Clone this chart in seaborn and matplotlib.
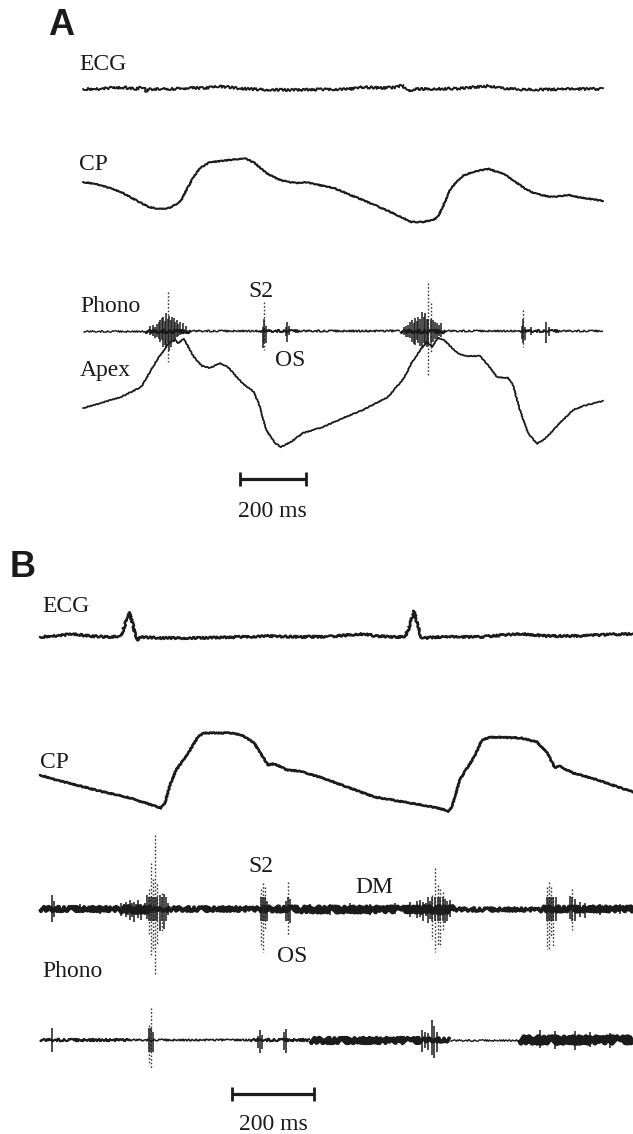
import numpy as np
import pandas as pd
import matplotlib
matplotlib.use("Agg")
import matplotlib.pyplot as plt
import seaborn as sns

# ---------------- Panel A: time (ms) and amplitude (trace units) ----------------
ecg_a_t = [0, 52, 82, 127, 158, 182, 191, 203, 264, 324, 370, 409, 439, 476, 536, 627,
           718, 809, 845, 900, 945, 967, 976, 988, 1000, 1052, 1142, 1203, 1233, 1264,
           1324, 1415, 1506, 1576]
ecg_a_v = [6, 6, 7, 7.5, 6, 8, 4, 6, 6, 7, 7, 8.5, 8, 6.5, 5.5, 5,
           5.5, 6, 8, 7, 7.5, 10, 7, 3, 6, 6, 6.5, 8.5, 9, 7,
           5.5, 5.5, 6, 6]

cp_a_t = [0, 40, 80, 115, 165, 200, 230, 260, 285, 300, 315, 335, 355, 385, 420, 470,
          490, 520, 555, 590, 620, 650, 675, 700, 760, 810, 870, 925, 970, 995, 1030,
          1060, 1075, 1090, 1115, 1150, 1190, 1230, 1275, 1315, 1345, 1375, 1420, 1450,
          1470, 1500, 1576]
cp_a_v = [43, 41, 37, 33, 24, 18, 16, 17, 21, 26, 36, 48, 57, 63, 64, 66,
          67, 62, 52, 46, 43, 42, 43, 41, 37, 30, 22, 14, 7, 3, 3,
          5, 8, 18, 37, 49, 54, 56, 51, 42, 35, 31, 28, 29,
          30, 28, 24]

apex_a_t = [0, 55, 115, 176, 194, 224, 252, 264, 279, 288, 306, 324, 336, 361, 385, 415,
            439, 482, 518, 536, 555, 582, 600, 630, 667, 727, 788, 848, 924, 973, 997,
            1027, 1042, 1058, 1076, 1094, 1130, 1155, 1203, 1227, 1255, 1288, 1303, 1324,
            1348, 1376, 1406, 1445, 1485, 1515, 1576]
apex_a_v = [42, 47, 53, 63, 73, 90, 103, 108, 110, 107, 111, 100, 93, 84, 82, 87,
            83, 67, 58, 43, 20, 7, 3, 8, 17, 23, 32, 40, 53, 72, 88,
            102, 108, 103, 112, 110, 98, 94, 94, 85, 73, 72, 65, 40,
            17, 6, 13, 27, 40, 44, 49]

# phonocardiogram: background noise envelope (half-width) and individual deflections
phono_a_env_t = [0, 188, 324, 536, 658, 961, 1097, 1324, 1445, 1576]
phono_a_env_hw = [1.4, 2.6, 1.5, 2.0, 1.6, 2.6, 1.5, 2.0, 1.5]
phono_a_sp_t = [203, 212, 218, 224, 229, 233, 238, 242, 247, 252, 258, 262, 267, 271, 276,
                280, 285, 289, 294, 303, 312,
                545, 548, 555, 615, 618, 624,
                973, 979, 985, 991, 997, 1002, 1006, 1011, 1015, 1021, 1027, 1032, 1036,
                1041, 1045, 1055, 1061, 1067, 1073, 1079, 1085,
                1330, 1333, 1339, 1358, 1403, 1412]
phono_a_sp_up = [5, 6, 4, 7, 9, 11, 13, 14, 10, 18, 39, 15, 11, 14, 13,
                 9, 11, 7, 9, 8, 5,
                 4, 29, 5, 4, 9, 5,
                 4, 5, 6, 9, 11, 8, 13, 10, 14, 12, 19, 14, 18,
                 12, 48, 28, 11, 9, 8, 6, 8,
                 5, 21, 4, 4, 9, 4]
phono_a_sp_dn = [4, 5, 7, 6, 8, 11, 9, 16, 14, 17, 31, 20, 16, 9, 11,
                 8, 6, 5, 4, 3, 3,
                 17, 19, 12, 5, 11, 4,
                 4, 6, 6, 7, 11, 13, 14, 9, 12, 15, 17, 12, 14,
                 16, 46, 22, 11, 8, 9, 5, 6,
                 8, 16, 9, 4, 12, 5]

# ---------------- Panel B ----------------
ecg_b_t = [0, 49, 80, 122, 171, 198, 207, 217, 227, 234, 239, 246, 293, 390, 488, 561,
           634, 707, 768, 793, 817, 866, 890, 900, 912, 922, 929, 937, 976, 1073, 1146,
           1183, 1232, 1317, 1390, 1446]
ecg_b_v = [3, 4.5, 6, 4, 3, 4, 15, 28, 15, 2, 0, 3, 2, 2, 3, 4,
           3, 3.5, 5.5, 6, 4, 3, 3.5, 12, 29, 14, 3, 2, 3, 3, 5.5,
           6, 4, 4, 5.5, 6]

cp_b_t = [0, 49, 98, 146, 220, 295, 305, 317, 332, 341, 366, 385, 400, 463, 493, 522,
          541, 556, 568, 578, 602, 632, 690, 749, 817, 888, 946, 990, 995, 1005, 1017,
          1024, 1034, 1059, 1078, 1098, 1173, 1212, 1237, 1256, 1266, 1276, 1300, 1361,
          1410, 1446]
cp_b_v = [40, 34, 29, 24, 17, 7, 12, 30, 45, 50, 65, 78, 82, 82, 80, 72,
          60, 50, 51, 50, 45, 44, 37, 28, 18, 13, 9, 5, 3, 8, 25,
          35, 42, 58, 75, 78, 77, 73, 62, 47, 49, 47, 42, 35,
          28, 23]

phono_b1_env_t = [0, 195, 268, 317, 537, 634, 927, 1012, 1220, 1446]
phono_b1_env_hw = [4.0, 5.0, 3.4, 3.8, 4.4, 4.8, 5.2, 3.2, 4.4]
phono_b1_sp_t = [29, 34, 98, 146, 198, 205, 210, 215, 220, 224, 229, 234, 239, 246, 256,
                 261, 266, 271, 276, 280, 285, 293, 298, 302, 307, 312,
                 539, 544, 549, 554, 600, 605, 610,
                 659, 707, 756, 805, 866, 902,
                 920, 927, 934, 941, 946, 951, 956, 963, 971, 976, 983, 988, 993, 1000,
                 1237, 1241, 1246, 1251, 1259, 1293, 1298, 1305, 1317, 1329, 1366, 1415]
phono_b1_sp_up = [14, 8, 5, 4, 6, 5, 7, 5, 9, 6, 7, 5, 9, 5, 6,
                  14, 20, 46, 30, 74, 25, 14, 16, 15, 12, 6,
                  20, 26, 22, 8, 8, 27, 10,
                  5, 5, 6, 5, 6, 7,
                  8, 9, 7, 6, 12, 8, 14, 41, 24, 20, 17, 10, 8, 9,
                  22, 27, 22, 12, 12, 13, 20, 10, 7, 6, 5, 5]
phono_b1_sp_dn = [13, 8, 4, 5, 7, 4, 8, 6, 11, 8, 13, 6, 9, 11, 6,
                  10, 25, 48, 40, 66, 35, 22, 24, 20, 12, 6,
                  38, 43, 20, 12, 12, 26, 14,
                  5, 6, 5, 6, 5, 8,
                  9, 8, 12, 7, 14, 10, 30, 43, 36, 38, 21, 14, 12, 8,
                  40, 41, 28, 38, 12, 10, 21, 12, 8, 9, 6, 5]

phono_b2_env_t = [0, 220, 512, 659, 927, 1000, 1171, 1446]
phono_b2_env_hw = [2.2, 1.6, 2.2, 4.5, 3.6, 1.4, 5.5]
phono_b2_sp_t = [29, 266, 271, 276, 532, 537, 541, 595, 600,
                 932, 939, 946, 956, 961, 968, 1220, 1256, 1305, 1341, 1390]
phono_b2_sp_up = [12, 15, 32, 8, 4, 10, 5, 8, 11, 10, 8, 7, 20, 14, 8, 10, 9, 9, 8, 7]
phono_b2_sp_dn = [12, 25, 28, 12, 8, 13, 9, 10, 13, 12, 8, 10, 15, 18, 12, 8, 9, 10, 7, 8]

SCALE_MS = 200

# ---------------- layout (pixels) ----------------
W, H = 633, 1134
SPLIT = 540
PX_A, X0_A = 0.33, 83     # px per ms and left edge of panel A traces
PX_B, X0_B = 0.41, 40
PT = 0.72                 # points per pixel at 100 dpi
INK = "#1b1b1b"
SERIF = ["Liberation Serif", "DejaVu Serif"]
SANS = ["Liberation Sans", "DejaVu Sans"]

sns.set_theme(style="white")
plt.rcParams["font.family"] = SERIF

fig = plt.figure(figsize=(W / 100, H / 100), dpi=100)
fig.patch.set_facecolor("white")
axA = fig.add_axes([0, 1 - SPLIT / H, 1, SPLIT / H])
axB = fig.add_axes([0, 0, 1, (H - SPLIT) / H])


def trace(ax, t, v, base, lw, jitter):
    df = pd.DataFrame({"t": t, "y": base - np.asarray(v, float)})
    sns.lineplot(data=df, x="t", y="y", ax=ax, color=INK, lw=lw,
                 estimator=None, sort=False, legend=False)
    ax.lines[-1].set_sketch_params(jitter, 2.5, 3)
    ax.lines[-1].set_solid_joinstyle("round")


def phono(ax, env_t, env_hw, sp_t, sp_up, sp_dn, base):
    # noisy baseline: each envelope segment is a thick, jittered stroke
    for t0, t1, hw in zip(env_t[:-1], env_t[1:], env_hw):
        seg = pd.DataFrame({"t": [t0, t1], "y": [base, base]})
        sns.lineplot(data=seg, x="t", y="y", ax=ax, color=INK, lw=hw * PT,
                     estimator=None, sort=False, legend=False)
        ax.lines[-1].set_solid_capstyle("butt")
        ax.lines[-1].set_sketch_params(hw * 0.55, 1.2, 4)
    t = np.asarray(sp_t, float)
    up = np.asarray(sp_up, float)
    dn = np.asarray(sp_dn, float)
    tall = (up + dn) > 36
    ax.vlines(t[~tall], base - up[~tall], base + dn[~tall], color=INK, lw=1.1)
    ax.vlines(t[tall], base - up[tall], base + dn[tall], color="#3a3a3a",
              lw=1.0, linestyles=(0, (1.2, 1.4)))
    ax.vlines(t[tall], base - np.minimum(up[tall], 12), base + np.minimum(dn[tall], 12),
              color=INK, lw=1.1)


def scalebar(ax, t0, row):
    ax.plot([t0, t0 + SCALE_MS], [row, row], color=INK, lw=2.3, solid_capstyle="butt")
    ax.vlines([t0, t0 + SCALE_MS], row - 7, row + 7, color=INK, lw=2.0)


# Panel A traces
trace(axA, ecg_a_t, ecg_a_v, 95, 1.4, 1.2)
trace(axA, cp_a_t, cp_a_v, 225, 1.5, 0.5)
phono(axA, phono_a_env_t, phono_a_env_hw, phono_a_sp_t, phono_a_sp_up, phono_a_sp_dn, 331)
trace(axA, apex_a_t, apex_a_v, 450, 1.3, 0.4)
scalebar(axA, (240 - X0_A) / PX_A, 479)

# Panel B traces
trace(axB, ecg_b_t, ecg_b_v, 640, 1.8, 1.0)
trace(axB, cp_b_t, cp_b_v, 815, 1.9, 0.5)
phono(axB, phono_b1_env_t, phono_b1_env_hw, phono_b1_sp_t, phono_b1_sp_up, phono_b1_sp_dn, 909)
phono(axB, phono_b2_env_t, phono_b2_env_hw, phono_b2_sp_t, phono_b2_sp_up, phono_b2_sp_dn, 1040)
scalebar(axB, (232 - X0_B) / PX_B, 1094)

axA.set_xlim(-X0_A / PX_A, (W - X0_A) / PX_A)
axA.set_ylim(SPLIT, 0)
axB.set_xlim(-X0_B / PX_B, (W - X0_B) / PX_B)
axB.set_ylim(H, SPLIT)
for ax in (axA, axB):
    ax.set_axis_off()


def label(x, y, s, size=17, **kw):
    fig.text(x / W, 1 - y / H, s, fontsize=size, va="baseline", color=INK, **kw)


label(48, 35, "A", size=26, family=SANS, fontweight="bold")
label(10, 577, "B", size=26, family=SANS, fontweight="bold")

label(79, 70, "ECG")
label(79, 170, "CP")
label(80, 312, "Phono")
label(248, 297, "S2")
label(275, 366, "OS")
label(80, 376, "Apex")
label(272.5, 517, "200 ms", ha="center")

label(42, 612, "ECG")
label(40, 768, "CP")
label(248, 872, "S2")
label(355, 893, "DM")
label(277, 962, "OS")
label(42, 977, "Phono")
label(273, 1130, "200 ms", ha="center")

fig.savefig("out.png", dpi=100, facecolor="white")
